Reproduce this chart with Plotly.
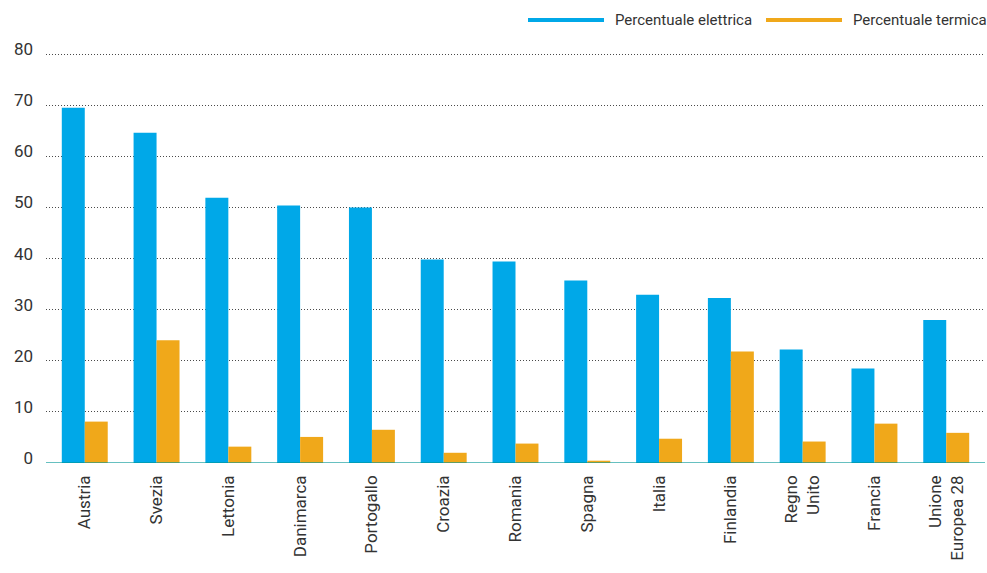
import plotly.graph_objects as go

# Quota di rinnovabili per paese (%)
paesi = ["Austria", "Svezia", "Lettonia", "Danimarca", "Portogallo", "Croazia",
         "Romania", "Spagna", "Italia", "Finlandia", "Regno<br>Unito", "Francia",
         "Unione<br>Europea 28"]
elettrica = [69.5, 64.6, 51.9, 50.4, 50.0, 39.8, 39.4, 35.7, 32.9, 32.3, 22.2, 18.5, 28.0]
termica = [8.1, 24.0, 3.2, 5.1, 6.5, 2.0, 3.8, 0.45, 4.75, 21.8, 4.2, 7.7, 5.9]
serie = ["Percentuale elettrica", "Percentuale termica"]
y_ticks = [0, 10, 20, 30, 40, 50, 60, 70, 80]

BLU = "#00a8e8"
ARANCIO = "#f0a81a"
FONT = "Roboto"

fig = go.Figure()
fig.add_trace(go.Bar(x=paesi, y=elettrica, name=serie[0], marker_color=BLU,
                     marker_line_width=0))
fig.add_trace(go.Bar(x=paesi, y=termica, name=serie[1], marker_color=ARANCIO,
                     marker_line_width=0))

fig.update_layout(
    width=987, height=573,
    margin=dict(l=46, r=2, t=49, b=110),
    paper_bgcolor="white", plot_bgcolor="white",
    barmode="group", bargap=0.36, bargroupgap=0,
    showlegend=False,
    font=dict(family=FONT, color="#333333"),
)
fig.update_xaxes(
    range=[-0.54, 12.54], showgrid=False, zeroline=False, showline=False,
    tickangle=-90, tickfont=dict(size=17, color="#333333"),
    ticks="", ticklabelstandoff=8,
)
fig.update_yaxes(
    range=[0, 81], tickvals=y_ticks, showgrid=True, gridcolor="#4a4a4a",
    griddash="1px,2px", gridwidth=1, zeroline=False, showline=False,
    tickfont=dict(size=17, color="#333333"), ticks="", ticklabelstandoff=12,
    ticklabelshift=-5,
)

# linea di base sopra le barre
fig.add_shape(type="line", xref="paper", yref="y", x0=0, x1=1, y0=0, y1=0,
              line=dict(color="rgba(0,150,150,0.6)", width=2), layer="above")

# legenda con tratti lunghi
legenda = [(528, 604, 613, BLU, serie[0]), (766, 842, 851, ARANCIO, serie[1])]
for xa, xb, xt, col, testo in legenda:
    fig.add_shape(type="line", xref="paper", yref="paper",
                  x0=(xa - 46) / 939, x1=(xb - 46) / 939,
                  y0=(463 - 20) / 414, y1=(463 - 20) / 414,
                  line=dict(color=col, width=4))
    fig.add_annotation(xref="paper", yref="paper", x=(xt - 46) / 939,
                       y=(463 - 20) / 414, text=testo, showarrow=False,
                       xanchor="left", yanchor="middle",
                       font=dict(size=15, color="#333333", family=FONT))

fig.write_html("out.html")
